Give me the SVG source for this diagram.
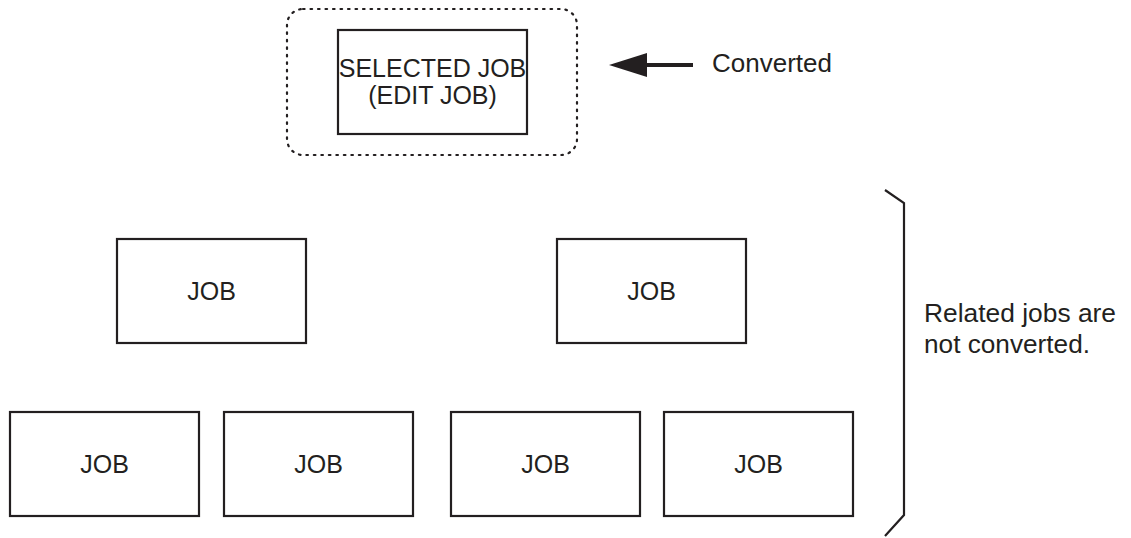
<svg xmlns="http://www.w3.org/2000/svg" width="1131" height="538" viewBox="0 0 1131 538">
<style>
.box{fill:#fff;stroke:#231f20;stroke-width:2.2}
.t{font-family:"Liberation Sans",Arial,sans-serif;font-size:25px;fill:#231f20;text-anchor:middle}
.l{font-family:"Liberation Sans",Arial,sans-serif;font-size:25px;fill:#231f20}
.ln{fill:none;stroke:#231f20;stroke-width:2.2}
</style>
<rect width="1131" height="538" fill="#fff"/>
<g id="group-selected">
<rect x="287" y="9" width="290" height="146" rx="16" fill="none" stroke="#231f20" stroke-width="2.2" stroke-dasharray="1.6 5.9" stroke-linecap="round"/>
</g>
<g id="node-selected">
<rect class="box" x="338" y="30" width="189" height="104"/>
<text class="t" x="432.5" y="77">SELECTED JOB</text>
<text class="t" x="432.5" y="104">(EDIT JOB)</text>
</g>
<g id="node-job1"><rect class="box" x="117" y="239" width="189" height="104"/><text class="t" x="211.5" y="300">JOB</text></g>
<g id="node-job2"><rect class="box" x="557" y="239" width="189" height="104"/><text class="t" x="651.5" y="300">JOB</text></g>
<g id="node-job3"><rect class="box" x="10" y="412" width="189" height="104"/><text class="t" x="104.5" y="473">JOB</text></g>
<g id="node-job4"><rect class="box" x="224" y="412" width="189" height="104"/><text class="t" x="318.5" y="473">JOB</text></g>
<g id="node-job5"><rect class="box" x="451" y="412" width="189" height="104"/><text class="t" x="545.5" y="473">JOB</text></g>
<g id="node-job6"><rect class="box" x="664" y="412" width="189" height="104"/><text class="t" x="758.5" y="473">JOB</text></g>
<g id="connectors">
<line x1="644" y1="65" x2="693" y2="65" stroke="#231f20" stroke-width="4"/>
<polygon points="609,65 647,53 647,77" fill="#231f20"/>
<polyline class="ln" points="885,190 904,203 904,515 885,536"/>
</g>
<g id="labels">
<text class="l" x="712" y="72" textLength="120" lengthAdjust="spacingAndGlyphs">Converted</text>
<text class="l" x="924" y="322" textLength="192" lengthAdjust="spacingAndGlyphs">Related jobs are</text>
<text class="l" x="924" y="353" textLength="166" lengthAdjust="spacingAndGlyphs">not converted.</text>
</g>
</svg>
